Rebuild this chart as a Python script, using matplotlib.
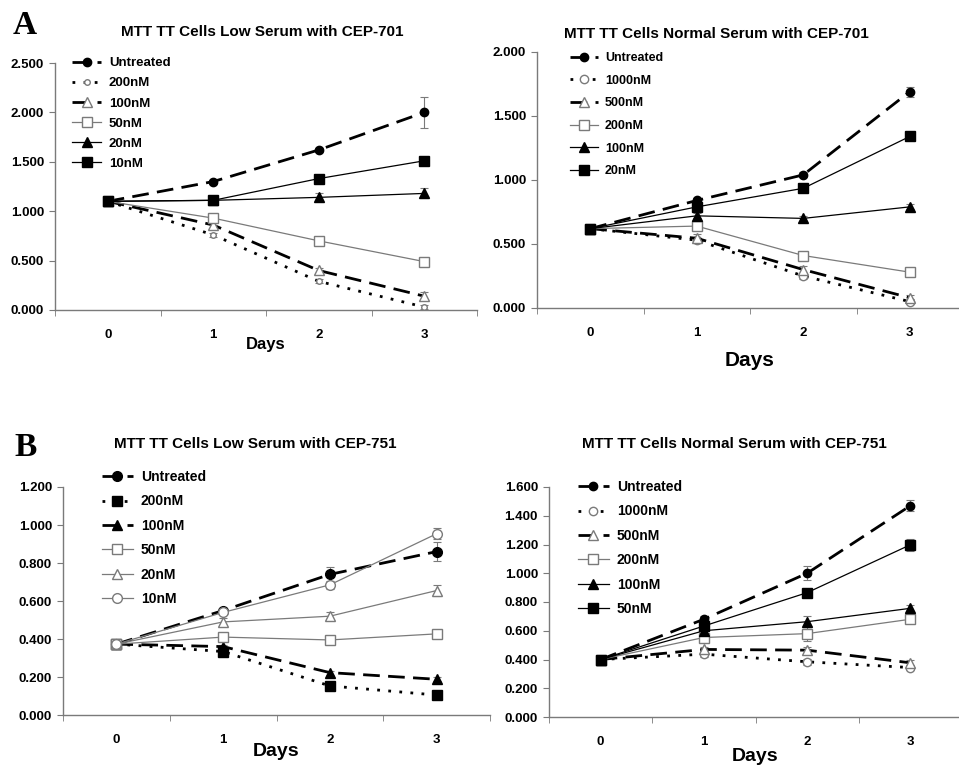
import numpy as np
import matplotlib
matplotlib.use('Agg')
import matplotlib.pyplot as plt

plt.rcParams['font.family'] = ['Liberation Sans', 'DejaVu Sans']
plt.rcParams['font.weight'] = 'bold'

days = ['0', '1', '2', '3']

# Panel A left: low serum, CEP-701
a1_labels = ['Untreated', '200nM', '100nM', '50nM', '20nM', '10nM']
a1_untreated = [1.10, 1.30, 1.62, 2.00]
a1_200 = [1.10, 0.76, 0.29, 0.03]
a1_100 = [1.10, 0.86, 0.40, 0.14]
a1_50 = [1.10, 0.93, 0.70, 0.49]
a1_20 = [1.10, 1.11, 1.14, 1.18]
a1_10 = [1.10, 1.11, 1.33, 1.51]
a1_err = [[0.01, 0.02, 0.02, 0.16], [0.01, 0.02, 0.02, 0.02], [0.01, 0.03, 0.03, 0.04],
          [0.01, 0.03, 0.02, 0.02], [0.01, 0.02, 0.04, 0.05], [0.01, 0.02, 0.02, 0.02]]

# Panel A right: normal serum, CEP-701
a2_labels = ['Untreated', '1000nM', '500nM', '200nM', '100nM', '20nM']
a2_untreated = [0.62, 0.84, 1.04, 1.69]
a2_1000 = [0.62, 0.53, 0.25, 0.05]
a2_500 = [0.62, 0.545, 0.30, 0.08]
a2_200 = [0.62, 0.64, 0.41, 0.28]
a2_100 = [0.62, 0.72, 0.70, 0.79]
a2_20 = [0.62, 0.79, 0.935, 1.34]
a2_err = [[0.01, 0.02, 0.02, 0.04], [0.01, 0.02, 0.02, 0.02], [0.01, 0.03, 0.03, 0.02],
          [0.01, 0.02, 0.02, 0.02], [0.01, 0.02, 0.02, 0.02], [0.01, 0.02, 0.02, 0.02]]

# Panel B left: low serum, CEP-751
b1_labels = ['Untreated', '200nM', '100nM', '50nM', '20nM', '10nM']
b1_untreated = [0.373, 0.55, 0.74, 0.86]
b1_200 = [0.373, 0.334, 0.153, 0.105]
b1_100 = [0.373, 0.36, 0.223, 0.188]
b1_50 = [0.373, 0.41, 0.395, 0.427]
b1_20 = [0.373, 0.49, 0.52, 0.655]
b1_10 = [0.373, 0.54, 0.685, 0.954]
b1_err = [[0.01, 0.01, 0.04, 0.05], [0.01, 0.01, 0.01, 0.01], [0.01, 0.01, 0.01, 0.01],
          [0.01, 0.01, 0.01, 0.01], [0.01, 0.02, 0.02, 0.03], [0.01, 0.01, 0.02, 0.03]]

# Panel B right: normal serum, CEP-751
b2_labels = ['Untreated', '1000nM', '500nM', '200nM', '100nM', '50nM']
b2_untreated = [0.40, 0.68, 1.00, 1.47]
b2_1000 = [0.40, 0.437, 0.384, 0.344]
b2_500 = [0.40, 0.47, 0.465, 0.377]
b2_200 = [0.40, 0.553, 0.58, 0.68]
b2_100 = [0.40, 0.60, 0.663, 0.756]
b2_50 = [0.40, 0.633, 0.865, 1.198]
b2_err = [[0.01, 0.02, 0.05, 0.04], [0.01, 0.02, 0.02, 0.02], [0.01, 0.02, 0.02, 0.02],
          [0.01, 0.02, 0.05, 0.02], [0.01, 0.02, 0.04, 0.02], [0.01, 0.02, 0.02, 0.04]]

GRAY = '#7a7a7a'
DASH = (0, (6, 3))
DOT = (0, (1, 3))

# styles for the six series of each panel, in legend order
styles_a = [
    dict(ls=DASH, lw=2.0, color='black', marker='o', mfc='black', mec='black', ms=6),
    dict(ls=DOT, lw=2.0, color='black', marker='o', mfc='white', mec=GRAY, ms=4),
    dict(ls=DASH, lw=2.0, color='black', marker='^', mfc='white', mec=GRAY, ms=7),
    dict(ls='-', lw=0.9, color=GRAY, marker='s', mfc='white', mec=GRAY, ms=7),
    dict(ls='-', lw=0.9, color='black', marker='^', mfc='black', mec='black', ms=7),
    dict(ls='-', lw=0.9, color='black', marker='s', mfc='black', mec='black', ms=7),
]
styles_a2 = [dict(s) for s in styles_a]
styles_a2[1].update(ms=6)
styles_b1 = [
    dict(ls=DASH, lw=2.0, color='black', marker='o', mfc='black', mec='black', ms=7),
    dict(ls=DOT, lw=2.0, color='black', marker='s', mfc='black', mec='black', ms=7),
    dict(ls=DASH, lw=2.0, color='black', marker='^', mfc='black', mec='black', ms=7),
    dict(ls='-', lw=0.9, color=GRAY, marker='s', mfc='white', mec=GRAY, ms=7),
    dict(ls='-', lw=0.9, color=GRAY, marker='^', mfc='white', mec=GRAY, ms=7),
    dict(ls='-', lw=0.9, color=GRAY, marker='o', mfc='white', mec=GRAY, ms=7),
]


def draw(ax, series, labels, errs, styles, ymax, ystep, title, title_xy, xlab_y,
         xlab_size, leg_anchor, leg_space, leg_size):
    x = np.arange(len(days))
    for vals, lab, err, st in zip(series, labels, errs, styles):
        ax.errorbar(x, vals, yerr=err, ecolor=GRAY, elinewidth=0.8, capsize=3,
                    capthick=0.8, label=lab, **st)
    ax.set_xlim(-0.5, 3.5)
    ax.set_ylim(0, ymax)
    yt = np.arange(0, ymax + 1e-9, ystep)
    ax.set_yticks(yt)
    ax.set_yticklabels(['%.3f' % v for v in yt], fontsize=9.5, fontweight='bold')
    ax.set_xticks(x)
    ax.set_xticklabels(days, fontsize=9.5, fontweight='bold')
    ax.set_xticks(np.arange(-0.5, 3.6, 1.0), minor=True)
    ax.tick_params(axis='x', which='major', length=0, pad=14)
    ax.tick_params(axis='x', which='minor', length=4, color=GRAY)
    ax.tick_params(axis='y', length=4, color=GRAY, pad=4)
    for s in ['top', 'right']:
        ax.spines[s].set_visible(False)
    for s in ['left', 'bottom']:
        ax.spines[s].set_color(GRAY)
        ax.spines[s].set_linewidth(1.0)
    ax.set_title(title, fontsize=11, fontweight='bold', pad=0,
                 x=title_xy[0], y=title_xy[1])
    ax.set_xlabel('Days', fontsize=xlab_size, fontweight='bold')
    ax.xaxis.set_label_coords(0.5, xlab_y)
    ax.xaxis.label.set_va('center')
    h, l = ax.get_legend_handles_labels()
    h = [hh[0] for hh in h]
    ax.legend(h, l, loc='upper left', bbox_to_anchor=leg_anchor,
              bbox_transform=fig.transFigure, frameon=False, borderpad=0,
              borderaxespad=0, handlelength=2.2, handletextpad=0.6,
              labelspacing=leg_space, prop=dict(size=leg_size, weight='bold'))


fig = plt.figure(figsize=(9.59, 7.66), dpi=100)
W, H = 959.0, 766.0


def axes_px(l, t, r, b):
    return fig.add_axes([l / W, 1 - b / H, (r - l) / W, (b - t) / H])


ax1 = axes_px(55, 63, 477, 310)
ax2 = axes_px(537, 52, 963, 308)
ax3 = axes_px(63, 487, 490, 715)
ax4 = axes_px(549, 487, 962, 717)

draw(ax1, [a1_untreated, a1_200, a1_100, a1_50, a1_20, a1_10], a1_labels, a1_err,
     styles_a, 2.5, 0.5, 'MTT TT Cells Low Serum with CEP-701', (0.49, 1.11), -0.14, 12,
     (72 / W, 1 - 57 / H), 0.6, 9.5)
draw(ax2, [a2_untreated, a2_1000, a2_500, a2_200, a2_100, a2_20], a2_labels, a2_err,
     styles_a2, 2.0, 0.5, 'MTT TT Cells Normal Serum with CEP-701', (0.42, 1.055), -0.205, 15,
     (570 / W, 1 - 52 / H), 0.85, 9)
draw(ax3, [b1_untreated, b1_200, b1_100, b1_50, b1_20, b1_10], b1_labels, b1_err,
     styles_b1, 1.2, 0.2, 'MTT TT Cells Low Serum with CEP-751', (0.45, 1.17), -0.16, 14,
     (102 / W, 1 - 470 / H), 0.75, 10)
draw(ax4, [b2_untreated, b2_1000, b2_500, b2_200, b2_100, b2_50], b2_labels, b2_err,
     styles_a2, 1.6, 0.2, 'MTT TT Cells Normal Serum with CEP-751', (0.45, 1.17), -0.17, 14,
     (578 / W, 1 - 480 / H), 0.75, 10)

fig.text(13 / W, 1 - 25 / H, 'A', fontsize=24, fontweight='bold',
         family='Liberation Serif', va='center', ha='left')
fig.text(14 / W, 1 - 448 / H, 'B', fontsize=24, fontweight='bold',
         family='Liberation Serif', va='center', ha='left')

fig.savefig('out.png', dpi=100)
